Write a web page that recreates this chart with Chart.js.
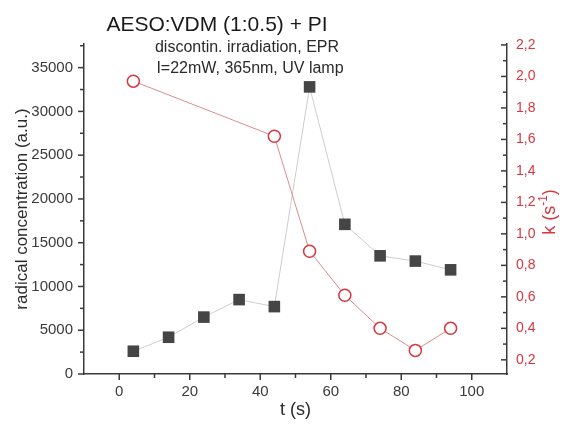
<!DOCTYPE html>
<html><head><meta charset="utf-8">
<script src="https://cdn.jsdelivr.net/npm/chart.js@4.4.1/dist/chart.umd.min.js"></script>
<style>html,body{margin:0;padding:0;background:#fff;} #c{display:block;}</style>
</head><body>
<canvas id="c" width="564" height="425"></canvas>
<script>
// ---- data ----
const times = [4, 14, 24, 34, 44, 54, 64, 74, 84, 94];
const radicalConc = [2600, 4200, 6500, 8500, 7700, 32800, 17100, 13500, 12900, 11900];
const kTimes = [4, 44, 54, 64, 74, 84, 94];
const kValues = [1.97, 1.62, 0.89, 0.61, 0.40, 0.26, 0.40];
const xTicks = [0, 20, 40, 60, 80, 100];
const xMinorTicks = [10, 30, 50, 70, 90];
const leftTicks = [0, 5000, 10000, 15000, 20000, 25000, 30000, 35000];
const leftMinorTicks = [2500, 7500, 12500, 17500, 22500, 27500, 32500, 37500];
const rightTicks = [0.2, 0.4, 0.6, 0.8, 1.0, 1.2, 1.4, 1.6, 1.8, 2.0, 2.2];
const rightMinorTicks = [0.3, 0.5, 0.7, 0.9, 1.1, 1.3, 1.5, 1.7, 1.9, 2.1];
const titleText = 'AESO:VDM (1:0.5) + PI';
const subtitleLines = ['discontin. irradiation, EPR', 'I=22mW, 365nm, UV lamp'];
const xTitle = 't (s)';
const yTitle = 'radical concentration (a.u.)';

const FONT = "'Liberation Sans', Arial, sans-serif";
const DARK = '#3a3a3a';
const RED = '#d9363e';
Chart.defaults.font.family = FONT;

const decor = {
  id: 'decor',
  afterDraw(chart) {
    const {ctx, chartArea: a, scales: {x, y, y2}} = chart;
    ctx.save();
    ctx.strokeStyle = DARK;
    ctx.lineWidth = 1.5;
    const seg = (x1, y1, x2, y2_) => { ctx.beginPath(); ctx.moveTo(x1, y1); ctx.lineTo(x2, y2_); ctx.stroke(); };
    xTicks.forEach(v => { const p = x.getPixelForValue(v); seg(p, a.bottom, p, a.bottom + 6); });
    xMinorTicks.forEach(v => { const p = x.getPixelForValue(v); seg(p, a.bottom, p, a.bottom + 4); });
    leftTicks.forEach(v => { const p = y.getPixelForValue(v); seg(a.left, p, a.left - 6, p); });
    leftMinorTicks.forEach(v => { const p = y.getPixelForValue(v); seg(a.left, p, a.left - 4, p); });
    rightTicks.forEach(v => { const p = y2.getPixelForValue(v); seg(a.right, p, a.right - 6, p); });
    rightMinorTicks.forEach(v => { const p = y2.getPixelForValue(v); seg(a.right, p, a.right - 4, p); });

    // titles
    ctx.fillStyle = '#1a1a1a';
    ctx.textAlign = 'center';
    ctx.textBaseline = 'alphabetic';
    ctx.font = `21px ${FONT}`;
    ctx.fillText(titleText, 217, 31);
    ctx.fillStyle = '#2a2a2a';
    ctx.font = `16px ${FONT}`;
    ctx.fillText(subtitleLines[0], 247, 52);
    ctx.fillText(subtitleLines[1], 250, 73);

    // right axis title k (s^-1), reading bottom to top
    ctx.translate(550, 212);
    ctx.rotate(-Math.PI / 2);
    ctx.fillStyle = RED;
    ctx.textAlign = 'left';
    ctx.textBaseline = 'middle';
    const big = `18px ${FONT}`, small = `12px ${FONT}`;
    const parts = [['k (s', big, 0], ['-1', small, -6], [')', big, 0]];
    let total = 0;
    parts.forEach(p => { ctx.font = p[1]; total += ctx.measureText(p[0]).width; });
    let cx = -total / 2;
    parts.forEach(p => { ctx.font = p[1]; ctx.fillText(p[0], cx, p[2]); cx += ctx.measureText(p[0]).width; });
    ctx.restore();
  }
};

new Chart(document.getElementById('c'), {
  type: 'line',
  data: {
    datasets: [
      {
        label: 'k',
        data: kTimes.map((t, i) => ({x: t, y: kValues[i]})),
        yAxisID: 'y2',
        borderColor: '#dc8c8c',
        borderWidth: 1,
        pointStyle: 'circle',
        pointRadius: 6,
        pointBorderWidth: 1.5,
        pointBackgroundColor: '#ffffff',
        pointBorderColor: RED,
        tension: 0
      },
      {
        label: 'radical',
        data: times.map((t, i) => ({x: t, y: radicalConc[i]})),
        yAxisID: 'y',
        borderColor: '#cdcdcd',
        borderWidth: 1,
        pointStyle: 'rect',
        pointRadius: 8.2,
        pointBorderWidth: 0,
        pointBackgroundColor: '#454545',
        pointBorderColor: '#454545',
        tension: 0
      }
    ]
  },
  options: {
    responsive: false,
    animation: false,
    devicePixelRatio: 1,
    layout: {padding: {top: 44, left: 0, right: 0, bottom: 0}},
    plugins: {legend: {display: false}, tooltip: {enabled: false}},
    scales: {
      x: {
        type: 'linear', min: -10, max: 110,
        afterFit(s) { s.height = 51; },
        afterBuildTicks(s) { s.ticks = xTicks.map(v => ({value: v})); },
        grid: {display: false, drawTicks: false, tickLength: 0},
        border: {display: true, color: DARK, width: 1.5},
        ticks: {padding: 9, color: DARK, font: {size: 15}, maxRotation: 0, autoSkip: false},
        title: {display: true, text: xTitle, color: '#2a2a2a', font: {size: 18}, padding: {top: 0, bottom: 4}}
      },
      y: {
        type: 'linear', position: 'left', min: 0, max: 37700,
        afterFit(s) { s.width = 84; },
        afterBuildTicks(s) { s.ticks = leftTicks.map(v => ({value: v})); },
        grid: {display: false, drawTicks: false, tickLength: 0},
        border: {display: true, color: DARK, width: 1.5},
        ticks: {padding: 11, color: DARK, font: {size: 15}, autoSkip: false, callback: v => String(v)},
        title: {display: true, text: yTitle, color: '#2a2a2a', font: {size: 17}, padding: {top: 12, bottom: 0}}
      },
      y2: {
        type: 'linear', position: 'right', min: 0.11, max: 2.206,
        afterFit(s) { s.width = 57; },
        afterBuildTicks(s) { s.ticks = rightTicks.map(v => ({value: v})); },
        grid: {display: false, drawTicks: false, tickLength: 0},
        border: {display: true, color: DARK, width: 1.5},
        ticks: {padding: 9, color: RED, font: {size: 14}, autoSkip: false, callback: v => v.toFixed(1).replace('.', ',')}
      }
    }
  },
  plugins: [decor]
});
</script>
</body></html>
